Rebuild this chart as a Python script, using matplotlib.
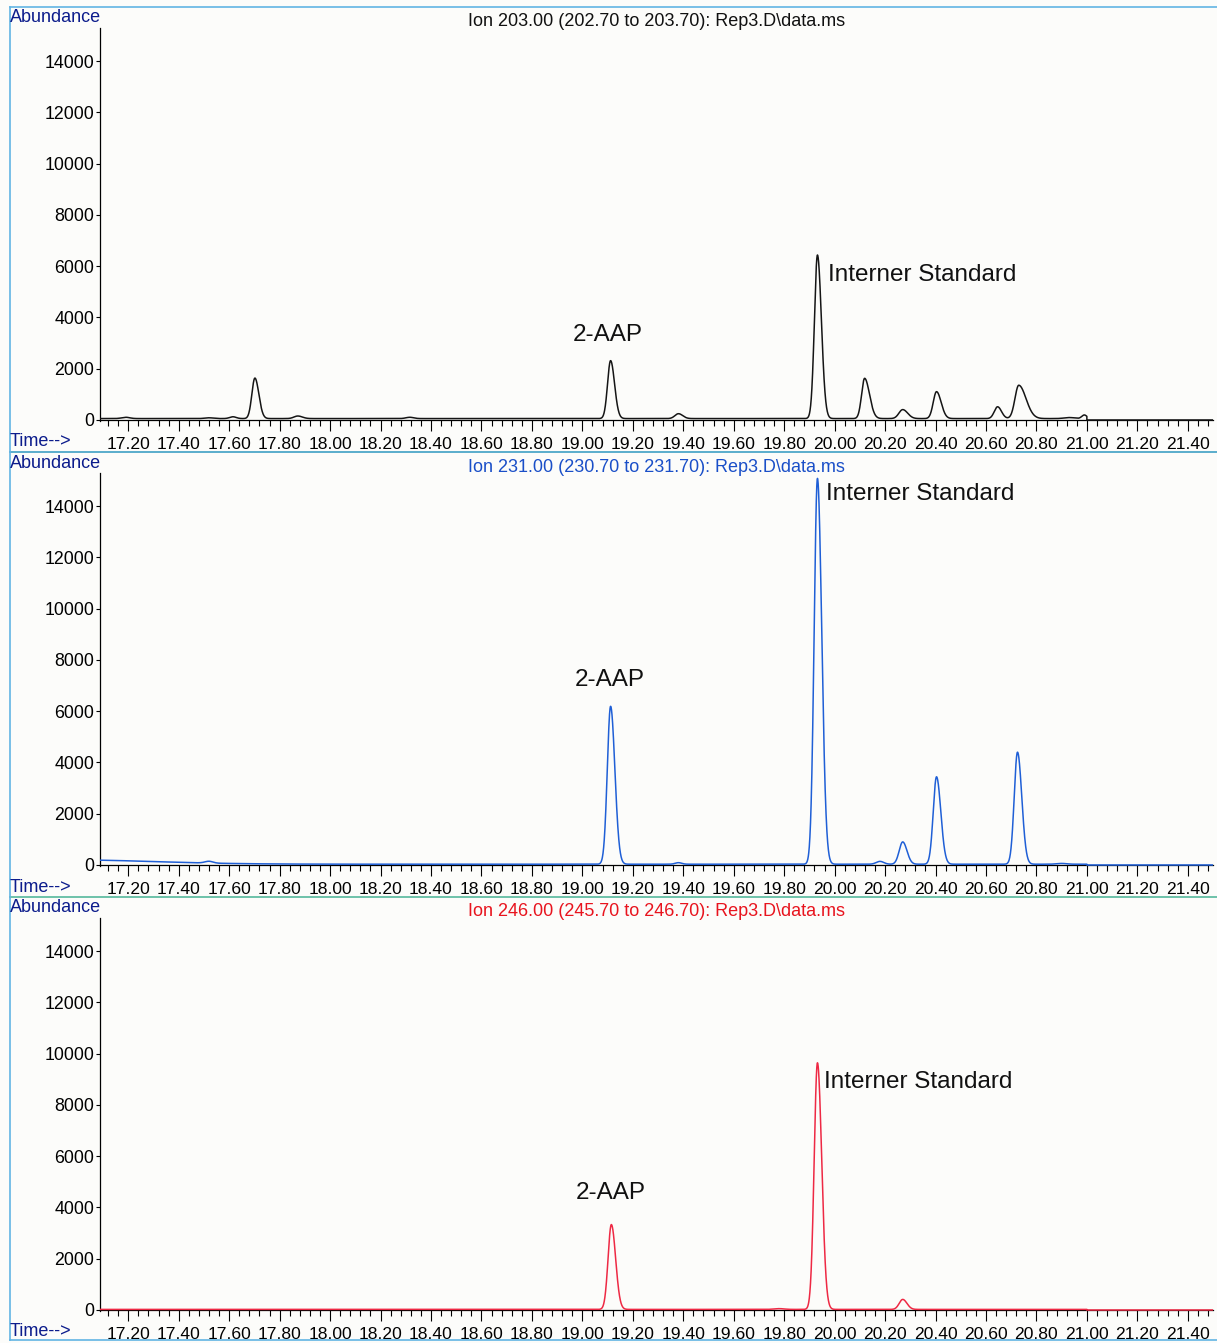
import numpy as np
import matplotlib
matplotlib.use("Agg")
import matplotlib.pyplot as plt
from matplotlib.ticker import MultipleLocator, FormatStrFormatter, FixedLocator
from matplotlib.lines import Line2D

plt.rcParams['font.family'] = ['Liberation Sans', 'DejaVu Sans']

# ---------------------------------------------------------------------------
# Extracted-ion chromatograms, Rep3.D\data.ms  (peak tables: retention time
# [min], height [abundance], width sigma [min], right-side tailing factor)
# ---------------------------------------------------------------------------
ion_titles = [
    "Ion 203.00 (202.70 to 203.70): Rep3.D\\data.ms",
    "Ion 231.00 (230.70 to 231.70): Rep3.D\\data.ms",
    "Ion 246.00 (245.70 to 246.70): Rep3.D\\data.ms",
]

ion203_rt     = [17.19, 17.52, 17.615, 17.702, 17.872, 18.316, 19.112, 19.381,
                 19.932, 20.119, 20.270, 20.404, 20.646, 20.730, 20.93, 20.99]
ion203_height = [50, 30, 70, 1580, 100, 50, 2260, 190,
                 6380, 1570, 350, 1050, 460, 1300, 40, 140]
ion203_sigma  = [0.016, 0.016, 0.013, 0.012, 0.015, 0.015, 0.012, 0.014,
                 0.012, 0.012, 0.015, 0.013, 0.013, 0.015, 0.02, 0.01]
ion203_tail   = [1.0, 1.0, 1.0, 1.3, 1.2, 1.0, 1.3, 1.2,
                 1.3, 1.6, 1.3, 1.4, 1.2, 1.9, 1.0, 1.0]
ion203_base   = 55

ion231_rt     = [16.95, 17.52, 19.112, 19.381, 19.932, 20.18, 20.270, 20.404,
                 20.725, 20.90]
ion231_height = [170, 70, 6160, 60, 15050, 110, 870, 3410, 4370, 30]
ion231_sigma  = [0.35, 0.016, 0.013, 0.013, 0.013, 0.015, 0.014, 0.013,
                 0.013, 0.02]
ion231_tail   = [1.0, 1.0, 1.3, 1.0, 1.3, 1.0, 1.2, 1.3, 1.3, 1.0]
ion231_base   = 30

ion246_rt     = [19.115, 19.78, 19.932, 20.270]
ion246_height = [3310, 30, 9620, 390]
ion246_sigma  = [0.013, 0.02, 0.013, 0.014]
ion246_tail   = [1.3, 1.0, 1.3, 1.2]
ion246_base   = 22

run_start, run_end = 17.088, 21.00

panels = [
    (ion203_rt, ion203_height, ion203_sigma, ion203_tail, ion203_base),
    (ion231_rt, ion231_height, ion231_sigma, ion231_tail, ion231_base),
    (ion246_rt, ion246_height, ion246_sigma, ion246_tail, ion246_base),
]

y_ticks = [0, 2000, 4000, 6000, 8000, 10000, 12000, 14000]
x_range = (17.088, 21.50)
y_range = (-40, 15290)

trace_colors = ["#151515", "#1f5fd6", "#ee2944"]
title_colors = ["#111111", "#1a4fc8", "#e8141e"]
label_color = "#0c1c8c"

# annotation anchors (data coords) per panel: (x, y, text, ha)
notes = [
    [(19.100, 3300, "2-AAP", "center"), (19.972, 5640, "Interner Standard", "left")],
    [(19.108, 7230, "2-AAP", "center"), (19.964, 14460, "Interner Standard", "left")],
    [(19.112, 4550, "2-AAP", "center"), (19.956, 8900, "Interner Standard", "left")],
]


def build_trace(rt, height, sigma, tail, base):
    t = np.linspace(run_start, run_end, 8000)
    y = np.full_like(t, float(base))
    for r, h, s, k in zip(rt, height, sigma, tail):
        w = np.where(t < r, s, s * k)
        y += h * np.exp(-0.5 * ((t - r) / w) ** 2)
    t = np.append(t, [run_end, x_range[1]])
    y = np.append(y, [0.0, 0.0])
    return t, y


W, H = 1217, 1343
fig = plt.figure(figsize=(W / 100, H / 100), dpi=100, facecolor="#fcfcfa")

# pixel geometry of each axes: (top, bottom)
axes_px = [(28, 421), (473, 866), (918, 1311)]
left_px, right_px = 100, 1213
label_rows = [(18, 442), (463, 887), (908, 1332)]

for i, (peaks, (top, bot)) in enumerate(zip(panels, axes_px)):
    ax = fig.add_axes([left_px / W, 1 - bot / H, (right_px - left_px) / W, (bot - top) / H])
    ax.set_facecolor("none")
    t, y = build_trace(*peaks)
    ax.plot(t, y, color=trace_colors[i], lw=1.1, zorder=3)

    ax.set_xlim(*x_range)
    ax.set_ylim(*y_range)
    for s in ("top", "right"):
        ax.spines[s].set_visible(False)
    ax.spines["left"].set_linewidth(0.9)
    ax.spines["bottom"].set_linewidth(0.9)
    ax.spines["bottom"].set_position(("data", 0))

    ax.xaxis.set_major_locator(MultipleLocator(0.2))
    ax.xaxis.set_minor_locator(MultipleLocator(0.04))
    ax.xaxis.set_major_formatter(FormatStrFormatter("%.2f"))
    ax.yaxis.set_major_locator(FixedLocator(y_ticks))
    ax.tick_params(axis="x", which="major", direction="out", length=8, width=0.8,
                   pad=4, labelsize=12.6)
    ax.tick_params(axis="x", which="minor", direction="out", length=4, width=0.8)
    ax.tick_params(axis="y", which="major", direction="out", length=3, width=0.8,
                   pad=1, labelsize=12.8)

    ax.text(0.5, 1.0 + 6 / (bot - top), ion_titles[i], transform=ax.transAxes,
            ha="center", va="center", fontsize=13, color=title_colors[i])

    for (nx, ny, txt, ha) in notes[i]:
        ax.text(nx, ny, txt, ha=ha, va="center", fontsize=17.5, color="#111111",
                zorder=4)

    ab_y, tm_y = label_rows[i]
    fig.text(10 / W, 1 - ab_y / H, "Abundance", ha="left", va="center",
             fontsize=13, color=label_color)
    fig.text(10 / W, 1 - tm_y / H, "Time-->", ha="left", va="center",
             fontsize=13, color=label_color)

# panel frame lines
def hline(ypx, color, x0=10, x1=W):
    fig.add_artist(Line2D([x0 / W, x1 / W], [1 - ypx / H, 1 - ypx / H],
                          transform=fig.transFigure, color=color, lw=1.2))

hline(7, "#62b4e4")
hline(452, "#3fa0c4")
hline(897, "#55b89c")
hline(1340, "#62b4e4")
fig.add_artist(Line2D([10 / W, 10 / W], [1 - 7 / H, 1 - 1340 / H],
                      transform=fig.transFigure, color="#62b4e4", lw=1.2))

fig.savefig("out.png", dpi=100, facecolor=fig.get_facecolor())
